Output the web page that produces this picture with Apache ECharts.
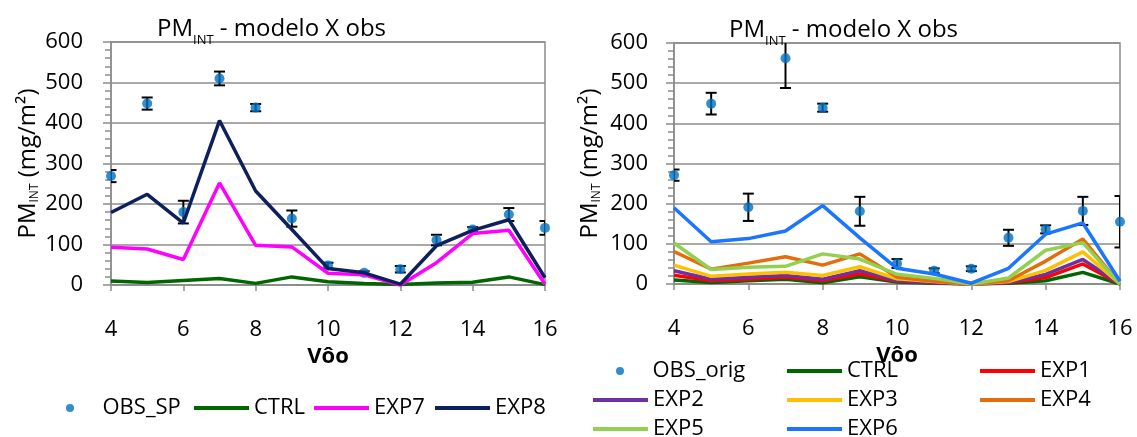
<!DOCTYPE html>
<html><head><meta charset="utf-8">
<script src="https://cdn.jsdelivr.net/npm/echarts@6/dist/echarts.min.js"></script>
<style>html,body{margin:0;padding:0;background:#fff}#c{width:1137px;height:437px}</style>
</head><body><div id="c"></div>
<script>
// ---- data ----
const flights = [4,5,6,7,8,9,10,11,12,13,14,15,16];

// left panel
const obsSP    = [269, 448, 180, 510, 438, 164, 48, 30, 39, 111, 137, 174, 141];
const obsSPErr = [15, 15, 28, 17, 9, 20, 7, 4, 8, 13, 6, 16, 17];
const ctrlL    = [10, 6, 11, 16, 4, 20, 8, 4, 1, 5, 7, 20, 1];
const exp7     = [93, 89, 63, 252, 98, 94, 29, 25, 0, 55, 127, 135, 2];
const exp8     = [179, 224, 153, 406, 232, 137, 41, 30, 2, 97, 135, 161, 18];

// right panel
const obsOrig    = [271, 449, 191, 562, 439, 181, 51, 33, 38, 115, 136, 182, 155];
const obsOrigErr = [14, 27, 34, 74, 10, 36, 11, 6, 6, 20, 10, 35, 64];
const ctrlR = [10, 4, 8, 12, 3, 18, 5, 2, 0, 2, 8, 29, 0];
const exp1  = [22, 8, 12, 17, 8, 25, 7, 3, 0, 3, 16, 50, 0];
const exp2  = [33, 12, 17, 21, 12, 33, 8, 3, 0, 3, 24, 61, 0];
const exp3  = [47, 19, 25, 29, 21, 43, 13, 6, 0, 6, 34, 80, 0];
const exp4  = [81, 37, 52, 68, 47, 75, 17, 7, 0, 8, 57, 112, 0];
const exp5  = [102, 36, 42, 44, 75, 62, 24, 14, 0, 15, 84, 103, 0];
const exp6  = [190, 105, 113, 132, 195, 115, 39, 25, 2, 39, 124, 152, 7];

const FONT = "'Open Sans', 'Liberation Sans', sans-serif";
const GRAY = '#8c8c8c';

const colors = {
  OBS:'#0070c0', CTRL:'#006600', EXP1:'#ff0000', EXP2:'#7030a0', EXP3:'#ffc000',
  EXP4:'#e46c0a', EXP5:'#92d050', EXP6:'#1a75ff', EXP7:'#ff00ff', EXP8:'#0d1f5c'
};

const pairs = (ys) => flights.map((x, i) => [x, ys[i]]);
const errData = (ys, es) => flights.map((x, i) => [x, ys[i] - es[i], ys[i] + es[i]]);

const richTitle = {
  m: {fontSize: 24, fontFamily: FONT, fontWeight: 'normal', color: '#000', verticalAlign: 'top', lineHeight: 28},
  s: {fontSize: 13, fontFamily: FONT, fontWeight: 'normal', color: '#000', verticalAlign: 'top', padding: [17, 0, 0, 0]}
};
const richName = {
  m: {fontSize: 24, fontFamily: FONT, color: '#000', verticalAlign: 'top', lineHeight: 28},
  s: {fontSize: 12, fontFamily: FONT, color: '#000', verticalAlign: 'top', padding: [13, 0, 0, 0]}
};

function xAxis(gi, gap) {
  return {
    type: 'value', gridIndex: gi, min: 4, max: 16, interval: 2,
    name: 'Vôo', nameLocation: 'middle', nameGap: gap,
    nameTextStyle: {fontSize: 22, fontWeight: 'bold', fontFamily: FONT, color: '#000'},
    axisLine: {show: true, onZero: false, lineStyle: {color: GRAY, width: 1.5}},
    axisTick: {show: true, length: 6, lineStyle: {color: GRAY, width: 1.5}},
    axisLabel: {fontSize: 22, fontFamily: FONT, color: '#000', margin: 34},
    splitLine: {show: false}
  };
}
function yAxis(gi, gap, lm) {
  return {
    type: 'value', gridIndex: gi, min: 0, max: 600, interval: 100,
    name: '{m|PM}{s|INT}{m| (mg/m²)}', nameLocation: 'middle', nameGap: gap, nameRotate: 90,
    nameTextStyle: {rich: richName},
    axisLine: {show: true, lineStyle: {color: GRAY, width: 1.5}},
    axisTick: {show: true, length: 8, lineStyle: {color: GRAY, width: 1.5}},
    minorTick: {show: true, splitNumber: 5, length: 6, lineStyle: {color: GRAY, width: 1.5}},
    axisLabel: {fontSize: 22, fontFamily: FONT, color: '#000', margin: lm},
    splitLine: {show: true, lineStyle: {color: GRAY, width: 1.5}}
  };
}

function errSeries(name, gi, ys, es) {
  return {
    type: 'custom', name: name + '_err', xAxisIndex: gi, yAxisIndex: gi, clip: true, z: 2,
    data: errData(ys, es),
    renderItem: function (params, api) {
      const x = api.value(0);
      const lo = api.coord([x, api.value(1)]);
      const hi = api.coord([x, api.value(2)]);
      const w = 5.5;
      const st = {stroke: '#000', lineWidth: 2};
      return {type: 'group', children: [
        {type: 'line', shape: {x1: lo[0], y1: lo[1], x2: hi[0], y2: hi[1]}, style: st},
        {type: 'line', shape: {x1: lo[0]-w, y1: lo[1], x2: lo[0]+w, y2: lo[1]}, style: st},
        {type: 'line', shape: {x1: hi[0]-w, y1: hi[1], x2: hi[0]+w, y2: hi[1]}, style: st}
      ]};
    }
  };
}
function scatter(name, gi, ys) {
  return {type: 'scatter', name: name, xAxisIndex: gi, yAxisIndex: gi, symbolSize: 10, z: 3,
    itemStyle: {color: colors.OBS}, data: pairs(ys)};
}
function line(name, gi, ys, color) {
  return {type: 'line', name: name, xAxisIndex: gi, yAxisIndex: gi, symbol: 'none', z: 4,
    lineStyle: {color: color, width: 3.5}, itemStyle: {color: color}, data: pairs(ys)};
}

// legend layout (icon-left x, row-centre y)
const legendItems = [
  ['OBS_SP', 66, 408, 'circle'], ['CTRL', 194, 408, 'rect'], ['EXP7', 314, 408, 'rect'], ['EXP8', 435, 408, 'rect'],
  ['OBS_orig', 616, 371, 'circle'], ['CTRL', 787, 371, 'rect'], ['EXP1', 980, 371, 'rect'],
  ['EXP2', 593, 400, 'rect'], ['EXP3', 787, 400, 'rect'], ['EXP4', 980, 400, 'rect'],
  ['EXP5', 593, 429, 'rect'], ['EXP6', 787, 429, 'rect']
];
const legends = legendItems.map(([n, x, y, ic]) => ({
  data: [n], left: x, top: y - 13, padding: 0, icon: ic,
  itemWidth: 55, itemHeight: ic === 'circle' ? 8 : 4, itemGap: 0,
  textStyle: {fontSize: 22, fontFamily: FONT, color: '#000', lineHeight: 26},
  selectedMode: false
}));

const option = {
  animation: false,
  title: [
    {text: '{m|PM}{s|INT}{m| - modelo X obs}', left: 157, top: 17, padding: 0, textStyle: {rich: richTitle}},
    {text: '{m|PM}{s|INT}{m| - modelo X obs}', left: 729, top: 18, padding: 0, textStyle: {rich: richTitle}}
  ],
  legend: legends,
  grid: [
    {left: 111, right: 592, top: 42, bottom: 152, show: true, borderColor: GRAY, borderWidth: 1.5},
    {left: 674, right: 17, top: 43, bottom: 153, show: true, borderColor: GRAY, borderWidth: 1.5}
  ],
  xAxis: [xAxis(0, 58), xAxis(1, 53)],
  yAxis: [yAxis(0, 67, 28), yAxis(1, 68, 26)],
  series: [
    errSeries('OBS_SP', 0, obsSP, obsSPErr),
    scatter('OBS_SP', 0, obsSP),
    line('CTRL', 0, ctrlL, colors.CTRL),
    line('EXP7', 0, exp7, colors.EXP7),
    line('EXP8', 0, exp8, colors.EXP8),
    errSeries('OBS_orig', 1, obsOrig, obsOrigErr),
    scatter('OBS_orig', 1, obsOrig),
    line('CTRL', 1, ctrlR, colors.CTRL),
    line('EXP1', 1, exp1, colors.EXP1),
    line('EXP2', 1, exp2, colors.EXP2),
    line('EXP3', 1, exp3, colors.EXP3),
    line('EXP4', 1, exp4, colors.EXP4),
    line('EXP5', 1, exp5, colors.EXP5),
    line('EXP6', 1, exp6, colors.EXP6)
  ]
};
const chart = echarts.init(document.getElementById('c'), null, {renderer: 'canvas'});
chart.setOption(option);
</script>
</body></html>
